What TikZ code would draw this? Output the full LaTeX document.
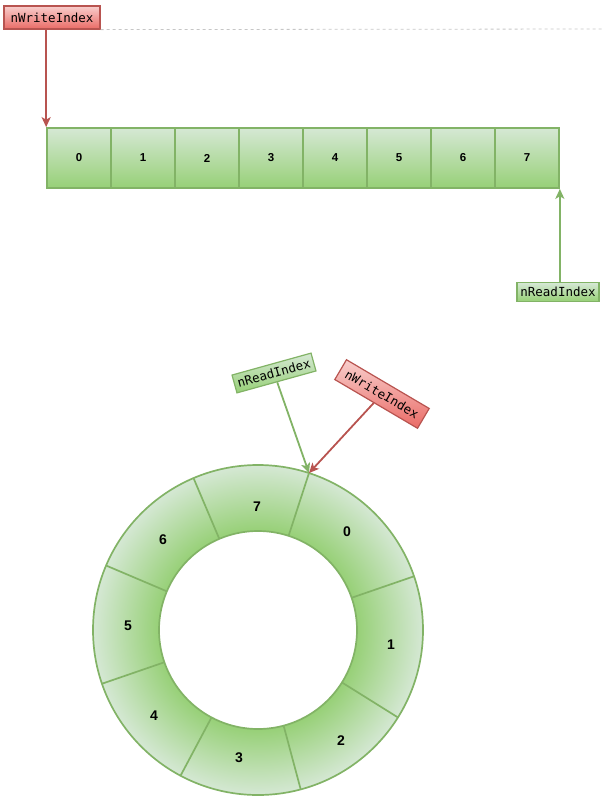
\documentclass[tikz,border=0pt]{standalone}
\usepackage{fontspec}
\setmainfont{Liberation Sans}
\newfontfamily\monof{DejaVu Sans Mono}
\usetikzlibrary{arrows.meta,positioning}
\definecolor{vertclair}{HTML}{D5E8D4}
\definecolor{vertfonce}{HTML}{97D077}
\definecolor{vertbord}{HTML}{82B366}
\definecolor{rougeclair}{HTML}{F8CECC}
\definecolor{rougefonce}{HTML}{EA6B66}
\definecolor{rougebord}{HTML}{B85450}
% 25bp = rayon exterieur de l'anneau
\pgfdeclareradialshading{anneau}{\pgfpoint{0bp}{0bp}}{color(0bp)=(vertfonce); color(15bp)=(vertfonce); color(25bp)=(vertclair); color(50bp)=(vertclair)}
\tikzset{
  case/.style={draw=vertbord, line width=1.7pt, top color=vertclair, bottom color=vertfonce,
    minimum width=64, minimum height=60, inner sep=0, font=\fontsize{11.5}{13}\bfseries},
  chiffre/.style={font=\fontsize{14}{16}\bfseries},
  etiqrouge/.style={draw=rougebord, line width=1.2pt, top color=rougeclair, bottom color=rougefonce,
    minimum width=96, minimum height=23, inner sep=0, font=\monof\fontsize{12.5}{14}\selectfont},
  etiqverte/.style={draw=vertbord, line width=1.2pt, top color=vertclair, bottom color=vertfonce,
    minimum width=82, minimum height=18.5, inner sep=0, font=\monof\fontsize{12.5}{14}\selectfont},
  flecherouge/.style={draw=rougebord, line width=1.8pt, -{Stealth[length=10pt,width=9pt,inset=2.5pt]}},
  flecheverte/.style={draw=vertbord, line width=1.8pt, -{Stealth[length=10pt,width=9pt,inset=2.5pt]}},
  anneaubord/.style={draw=vertbord, line width=1.7pt}
}
\begin{document}
\begin{tikzpicture}[x=1pt,y=1pt]
  \useasboundingbox (0,0) rectangle (602,-804);
  % le tableau lineaire
  \foreach \i in {0,...,7}
    \node[case] (c\i) at (79+64*\i,-158) {\i};
  \node[etiqrouge] (w1) at (52,-17.5) {nWriteIndex};
  \node[etiqverte] (r1) at (558,-292) {nReadIndex};
  \coordinate (bord) at (602,-29);
  \draw[gray!45, line width=0.8pt, dash pattern=on 3pt off 3pt] (w1.south east) -- (bord);
  \draw[flecherouge] (c0.north west |- w1.south) -- (c0.north west);
  \draw[flecheverte] (c7.south east |- r1.north) -- (c7.south east);
  % le tampon circulaire
  \begin{scope}[shift={(258,-630)}]
    \shade[shading=anneau, even odd rule] (0,0) circle (165) (0,0) circle (99);
    \draw[anneaubord] (0,0) circle (165) (0,0) circle (99);
    \foreach \a in {72,19,-32,-75,-118,-161,157,113}
      \draw[anneaubord] (\a:99) -- (\a:165);
    \foreach \p/\n in {{(89,98)}/0,{(133,-15)}/1,{(83,-111)}/2,{(-19,-128)}/3,
                       {(-104,-86)}/4,{(-130,4)}/5,{(-95,90)}/6,{(-1,123)}/7}
      \node[chiffre] (s\n) at \p {\n};
    \coordinate (haut) at (72:165);
  \end{scope}
  \node[etiqverte, rotate=15.5] (r2) at (274,-373) {nReadIndex};
  \node[etiqrouge, rotate=-30.5] (w2) at (382,-394) {nWriteIndex};
  \draw[flecheverte] (r2) -- (haut);
  \draw[flecherouge] (w2) -- (haut);
\end{tikzpicture}
\end{document}
